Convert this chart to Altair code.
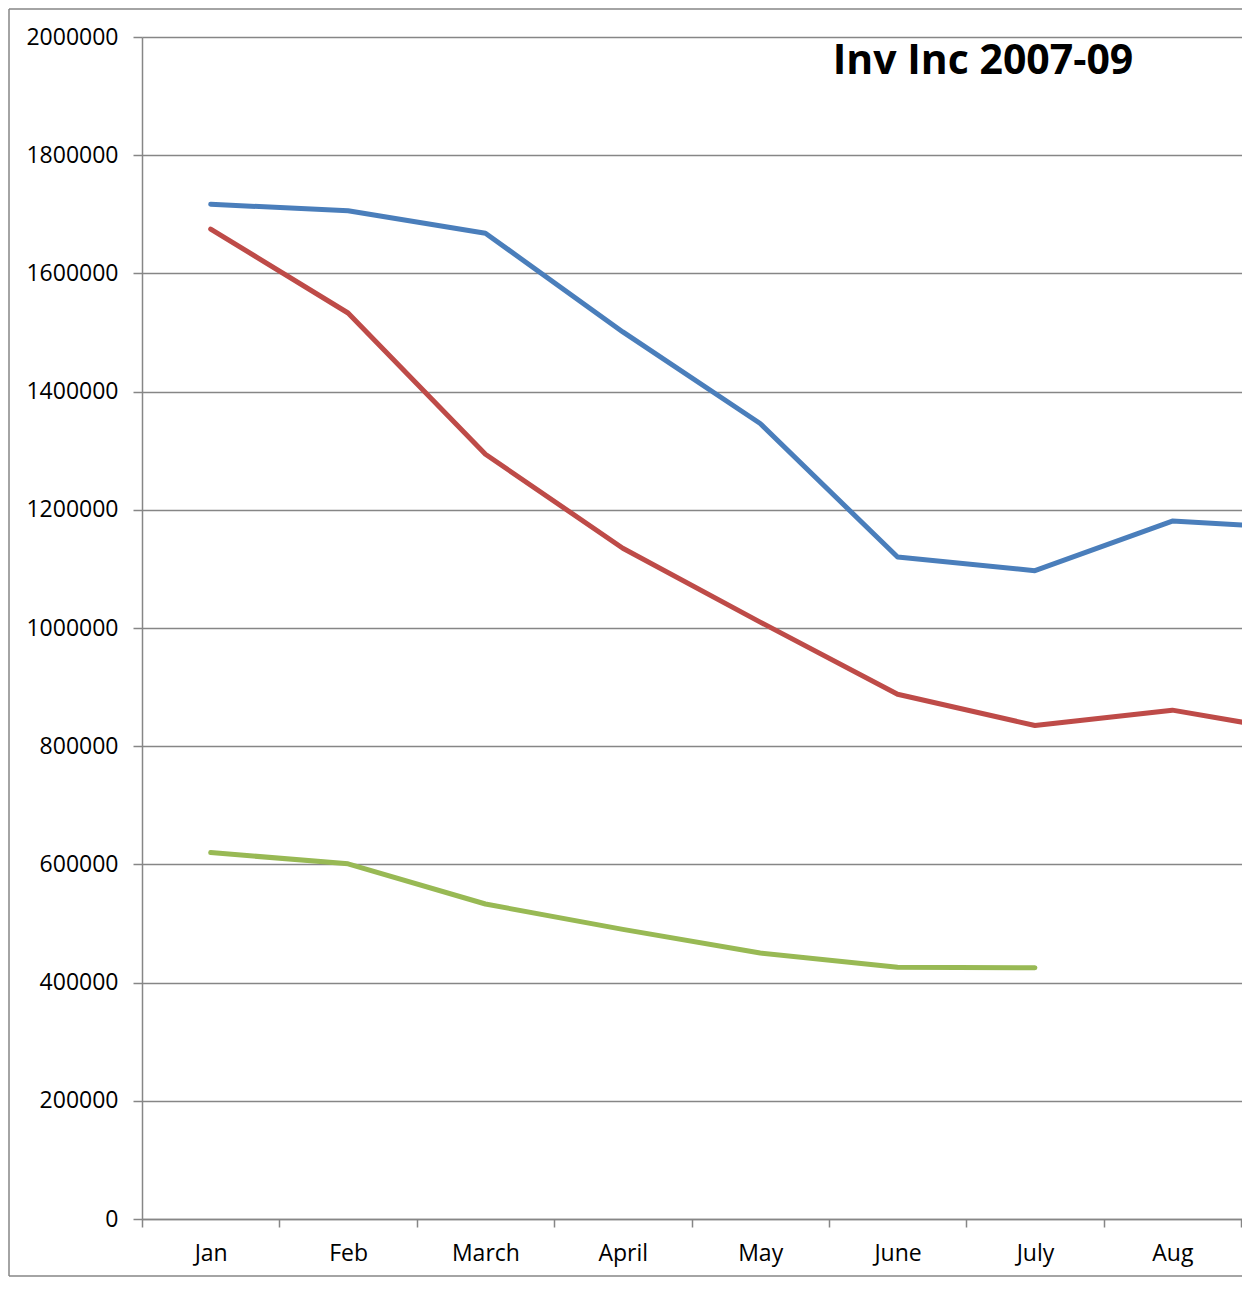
import altair as alt
import pandas as pd

months = ["Jan", "Feb", "March", "April", "May", "June", "July", "Aug", "Sep"]
series_2007 = [1717000, 1706000, 1668000, 1501000, 1346000, 1120000, 1097000, 1181000, 1168000]
series_2008 = [1675000, 1533000, 1294000, 1135000, 1010000, 888000, 835000, 861000, 821000]
series_2009 = [620000, 601000, 533000, 490000, 450000, 426000, 425000, None, None]
series_names = ["2007", "2008", "2009"]
series_colors = ["#4A7EBB", "#BE4B48", "#98B954"]
y_ticks = list(range(0, 2000001, 200000))
title_text = "Inv Inc 2007-09"

rows = []
for name, vals in zip(series_names, [series_2007, series_2008, series_2009]):
    for i, (m, v) in enumerate(zip(months, vals)):
        if v is not None:
            rows.append({"series": name, "month": m, "pos": i + 0.5, "value": v})
df = pd.DataFrame(rows)

W, H = 1100, 1182
band = 137.375
grid_col = "#868686"
font = "Open Sans"

label_arr = "[" + ",".join("'%s'" % m for m in months[:8]) + ",'']"

lines = alt.Chart(df).mark_line(strokeWidth=5, strokeCap="round", strokeJoin="round", clip=True).encode(
    x=alt.X("pos:Q",
            scale=alt.Scale(domain=[0, W / band], nice=False, zero=False),
            axis=alt.Axis(values=list(range(9)), labelExpr=label_arr + "[datum.value]",
                          labelOffset=band / 2, labelFlush=False, labelOverlap=False,
                          grid=False, tickSize=8, tickColor=grid_col, tickWidth=1.5,
                          domainColor=grid_col, domainWidth=1.5,
                          labelFont=font, labelFontSize=23, labelColor="#000000",
                          labelPadding=15, title=None)),
    y=alt.Y("value:Q",
            scale=alt.Scale(domain=[0, 2000000], nice=False),
            axis=alt.Axis(values=y_ticks, format="d", grid=True, gridColor=grid_col, gridWidth=1.5,
                          tickSize=9, tickColor=grid_col, tickWidth=1.5,
                          domainColor=grid_col, domainWidth=1.5,
                          labelFont=font, labelFontSize=23, labelColor="#000000",
                          labelPadding=15, title=None)),
    color=alt.Color("series:N", scale=alt.Scale(domain=series_names, range=series_colors), legend=None),
    order="pos:Q",
)

one = pd.DataFrame({"t": [title_text]})

title = alt.Chart(one).mark_text(font=font, fontSize=41, fontWeight="bold", color="#000000",
                                 align="center", baseline="alphabetic").encode(
    text="t:N", x=alt.value(841), y=alt.value(37))

frame_top = alt.Chart(one).mark_rule(color=grid_col, strokeWidth=1.5).encode(
    x=alt.value(-133), x2=alt.value(W + 10), y=alt.value(-28))
frame_left = alt.Chart(one).mark_rule(color=grid_col, strokeWidth=1.5).encode(
    x=alt.value(-133), y=alt.value(-28), y2=alt.value(H + 57))
frame_bottom = alt.Chart(one).mark_rule(color=grid_col, strokeWidth=1.5).encode(
    x=alt.value(-133), x2=alt.value(W + 10), y=alt.value(H + 57))

chart = alt.layer(lines, title, frame_top, frame_left, frame_bottom).properties(
    width=W, height=H,
    autosize=alt.AutoSizeParams(type="none"),
    padding={"left": 134, "top": 29, "right": 0, "bottom": 58},
    background="#ffffff",
).configure_view(stroke=None)

chart.save("out.html", embed_options={"renderer": "svg", "actions": False})
